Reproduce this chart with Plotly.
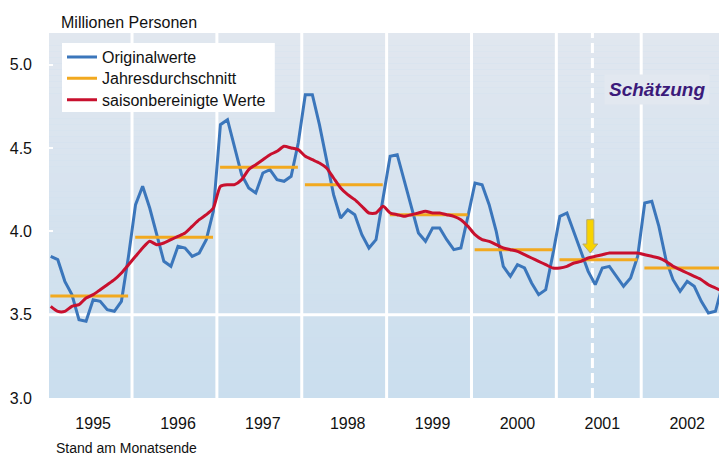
import plotly.graph_objects as go

years = [1995, 1996, 1997, 1998, 1999, 2000, 2001, 2002]

original = [
    3.85, 3.83, 3.70, 3.62, 3.47, 3.46, 3.59, 3.58, 3.53, 3.52, 3.58, 3.85,
    4.16, 4.27, 4.14, 3.98, 3.82, 3.79, 3.91, 3.90, 3.85, 3.87, 3.95, 4.12,
    4.64, 4.67, 4.50, 4.34, 4.26, 4.23, 4.35, 4.37, 4.31, 4.30, 4.33, 4.53,
    4.82, 4.82, 4.64, 4.44, 4.22, 4.08, 4.13, 4.10, 3.98, 3.90, 3.95, 4.20,
    4.45, 4.46, 4.30, 4.14, 3.99, 3.94, 4.02, 4.02, 3.95, 3.89, 3.90, 4.09,
    4.29, 4.28, 4.16, 4.00, 3.79, 3.73, 3.80, 3.78, 3.69, 3.62, 3.65, 3.86,
    4.09, 4.11, 3.99, 3.87, 3.76, 3.68, 3.78, 3.79, 3.73, 3.67, 3.72, 3.85,
    4.17, 4.18, 4.03, 3.83, 3.71, 3.64, 3.70, 3.67, 3.58, 3.51, 3.52, 3.68,
]

saisonbereinigt = [
    3.55, 3.52, 3.52, 3.55, 3.56, 3.60, 3.62, 3.65, 3.68, 3.71, 3.75, 3.80,
    3.85, 3.90, 3.94, 3.92, 3.93, 3.95, 3.97, 3.99, 4.03, 4.07, 4.10, 4.14,
    4.27, 4.28, 4.28, 4.31, 4.37, 4.40, 4.43, 4.46, 4.48, 4.51, 4.50, 4.49,
    4.45, 4.43, 4.41, 4.38, 4.32, 4.26, 4.22, 4.19, 4.15, 4.11, 4.11, 4.15,
    4.11, 4.10, 4.09, 4.10, 4.11, 4.12, 4.11, 4.11, 4.10, 4.09, 4.07, 4.03,
    3.98, 3.95, 3.94, 3.92, 3.90, 3.89, 3.88, 3.86, 3.84, 3.82, 3.80, 3.78,
    3.78, 3.79, 3.81, 3.82, 3.84, 3.85, 3.86, 3.87, 3.87, 3.87, 3.87, 3.87,
    3.86, 3.85, 3.84, 3.82, 3.79, 3.77, 3.75, 3.73, 3.71, 3.68, 3.66, 3.64,
]

jahresdurchschnitt = [3.612, 3.965, 4.384, 4.279, 4.099, 3.889, 3.83, 3.78]

months = list(range(len(original)))  # 0 = Jan 1995

FONT = "Liberation Sans, Arial, sans-serif"
BLUE = "#3b76bb"
ORANGE = "#f2a91f"
RED = "#c8102e"

# annual-average segments
ax, ay = [], []
for i, m in enumerate(jahresdurchschnitt):
    ax += [12 * i - 0.05, 12 * i + 10.95, None]
    ay += [m, m, None]

fig = go.Figure()
fig.add_trace(go.Scatter(x=months, y=original, mode="lines", name="Originalwerte",
                         line=dict(color=BLUE, width=3), legend="legend"))
fig.add_trace(go.Scatter(x=ax, y=ay, mode="lines", name="Jahresdurchschnitt",
                         line=dict(color=ORANGE, width=3), legend="legend2"))
fig.add_trace(go.Scatter(x=months, y=saisonbereinigt, mode="lines",
                         name="saisonbereinigte Werte", legend="legend3",
                         line=dict(color=RED, width=3, shape="spline", smoothing=0.6)))

shapes = []
# vertical gradient background
top = (225, 231, 239)
bot = (202, 222, 238)
N = 60
for k in range(N):
    t = (k + 0.5) / N
    c = tuple(round(bot[j] + (top[j] - bot[j]) * t) for j in range(3))
    shapes.append(dict(type="rect", xref="paper", yref="paper", x0=0, x1=1,
                       y0=k / N, y1=(k + 1) / N, line=dict(width=0),
                       fillcolor="rgb(%d,%d,%d)" % c, layer="below"))
# white horizontal line at 3.5
shapes.append(dict(type="line", xref="paper", yref="y", x0=0, x1=1, y0=3.5, y1=3.5,
                   line=dict(color="white", width=3), layer="below"))
# white year separators
for i in range(1, len(years)):
    shapes.append(dict(type="line", xref="x", yref="paper", x0=12 * i - 0.5,
                       x1=12 * i - 0.5, y0=0, y1=1,
                       line=dict(color="white", width=3), layer="below"))
# dashed estimate separator
shapes.append(dict(type="line", xref="x", yref="paper", x0=76.6, x1=76.6, y0=0, y1=1,
                   line=dict(color="white", width=3, dash="10px,5px"), layer="below"))
# yellow arrow
ac = 76.3
shapes.append(dict(type="path", xref="x", yref="y",
                   path="M %f,4.07 L %f,4.07 L %f,3.924 L %f,3.924 L %f,3.870 L %f,3.924 L %f,3.924 Z"
                   % (ac - 0.5, ac + 0.5, ac + 0.5, ac + 1.06, ac, ac - 1.06, ac - 0.5),
                   fillcolor="#f7d300", line=dict(color="#b8aa70", width=1), layer="above"))
# white legend box
shapes.append(dict(type="rect", xref="paper", yref="paper", x0=0.0194, x1=0.337,
                   y0=0.7836, y1=0.9726, fillcolor="white", line=dict(width=0),
                   layer="above"))

annotations = [
    dict(text="Millionen Personen", xref="paper", yref="paper", x=0.0149, y=1.030,
         xanchor="left", yanchor="middle", showarrow=False,
         font=dict(family=FONT, size=16, color="#111111")),
    dict(text="Stand am Monatsende", xref="paper", yref="paper", x=0.0075, y=-0.137,
         xanchor="left", yanchor="middle", showarrow=False,
         font=dict(family=FONT, size=14, color="#111111")),
    dict(text="<b><i>Schätzung</i></b>", xref="x", yref="y", x=85.76, y=4.85,
         xanchor="center", yanchor="middle", showarrow=False,
         bgcolor="rgb(226,232,240)", borderpad=4,
         font=dict(family=FONT, size=19, color="#3b1a7a")),
]

leg = dict(x=0.0194, xanchor="left", yanchor="middle", bgcolor="rgba(0,0,0,0)",
           borderwidth=0, font=dict(family=FONT, size=16, color="#111111"),
           itemwidth=30)

fig.update_layout(
    width=719, height=455,
    margin=dict(l=49, r=0, t=33, b=57),
    paper_bgcolor="white", plot_bgcolor="rgb(202,222,238)",
    font=dict(family=FONT, size=16, color="#111111"),
    showlegend=True,
    legend=dict(leg, y=0.934),
    legend2=dict(leg, y=0.876),
    legend3=dict(leg, y=0.817),
    shapes=shapes, annotations=annotations,
    xaxis=dict(range=[-0.24, 94.5], tickvals=[12 * i + 6 for i in range(len(years))],
               ticktext=[str(y) for y in years], showgrid=False, zeroline=False,
               showline=False, ticks="", ticklabelstandoff=14,
               tickfont=dict(family=FONT, size=16)),
    yaxis=dict(range=[3.0, 5.19], tickvals=[3.0, 3.5, 4.0, 4.5, 5.0],
               ticktext=["3.0", "3.5", "4.0", "4.5", "5.0"], showgrid=False,
               zeroline=False, showline=False, ticks="inside", ticklen=4,
               tickcolor="white", tickwidth=2, ticklabelstandoff=16,
               tickfont=dict(family=FONT, size=16)),
)

fig.write_html("out.html", config={"displayModeBar": False},
               post_script="document.body.style.margin='0';")
